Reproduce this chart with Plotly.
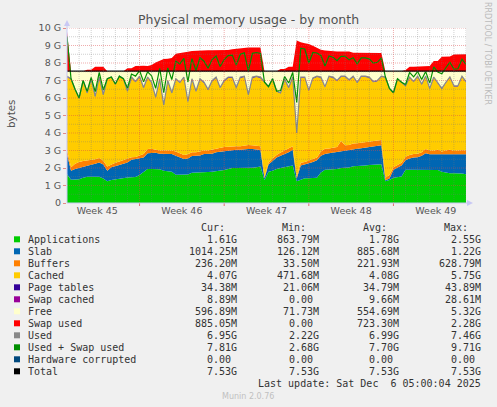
import pandas as pd
import plotly.graph_objects as go

# munin memory graph, values in G (one sample every 8 hours)
start = pd.Timestamp("2025-11-03 00:00")
times = pd.date_range(start, periods=100, freq="8h")
total_mem = 7.53

apps = [1.64, 1.33, 1.34, 1.36, 1.45, 1.50, 1.50, 1.51, 1.50, 1.40,
        1.24, 1.32, 1.36, 1.40, 1.43, 1.46, 1.47, 1.48, 1.60, 1.75,
        1.94, 1.94, 1.94, 1.93, 1.85, 1.80, 1.78, 1.62, 1.62, 1.62,
        1.63, 1.73, 1.75, 1.75, 1.76, 1.77, 1.78, 1.80, 1.86, 1.88,
        1.95, 2.00, 2.00, 2.00, 2.02, 2.02, 2.02, 2.05, 2.08, 1.31,
        1.79, 1.85, 1.95, 2.00, 2.05, 2.10, 2.15, 1.25, 1.35, 1.41,
        1.41, 1.42, 1.45, 1.75, 1.90, 1.92, 1.93, 1.95, 2.00, 2.02,
        2.03, 2.10, 2.13, 2.15, 2.15, 2.17, 2.18, 2.20, 2.22, 1.25,
        1.31, 1.45, 1.50, 1.52, 1.90, 1.90, 1.90, 1.90, 1.90, 1.90,
        1.88, 1.88, 1.88, 1.78, 1.72, 1.70, 1.70, 1.70, 1.68, 1.65]

slab = [1.14, 0.52, 0.61, 0.64, 0.63, 0.62, 0.68, 0.74, 0.82, 0.80,
        0.61, 0.73, 0.74, 0.77, 0.82, 0.86, 1.00, 1.02, 0.95, 0.85,
        0.91, 0.93, 0.93, 0.89, 0.95, 1.00, 1.02, 1.08, 1.00, 0.90,
        0.92, 0.95, 0.95, 0.97, 1.04, 1.03, 1.04, 1.10, 1.07, 1.07,
        1.05, 1.05, 1.05, 1.05, 1.06, 1.06, 1.06, 1.00, 0.95, 0.11,
        0.41, 0.55, 0.65, 0.70, 0.75, 0.80, 0.90, 0.15, 0.80, 0.79,
        0.86, 0.93, 1.00, 0.95, 0.90, 0.92, 0.95, 0.97, 0.98, 0.98,
        1.00, 0.98, 0.97, 0.98, 1.02, 1.03, 1.04, 1.05, 1.08, 0.05,
        0.09, 0.45, 0.55, 0.63, 0.55, 0.65, 0.70, 0.72, 0.80, 0.95,
        0.90, 0.90, 0.90, 0.97, 1.03, 1.06, 1.07, 1.08, 1.10, 1.13]

buffers = [0.25, 0.20, 0.30, 0.35, 0.32, 0.30, 0.27, 0.25, 0.25, 0.22,
           0.23, 0.15, 0.20, 0.20, 0.20, 0.20, 0.15, 0.13, 0.15, 0.20,
           0.23, 0.23, 0.18, 0.18, 0.20, 0.20, 0.20, 0.25, 0.23, 0.23,
           0.23, 0.22, 0.20, 0.23, 0.20, 0.20, 0.23, 0.22, 0.22, 0.25,
           0.22, 0.20, 0.20, 0.20, 0.22, 0.24, 0.22, 0.23, 0.22, 0.05,
           0.10, 0.15, 0.15, 0.18, 0.20, 0.20, 0.20, 0.10, 0.15, 0.15,
           0.15, 0.15, 0.15, 0.25, 0.30, 0.28, 0.27, 0.28, 0.57, 0.30,
           0.29, 0.32, 0.32, 0.32, 0.28, 0.30, 0.28, 0.30, 0.30, 0.15,
           0.20, 0.15, 0.15, 0.15, 0.20, 0.20, 0.20, 0.20, 0.20, 0.23,
           0.22, 0.20, 0.27, 0.20, 0.25, 0.29, 0.20, 0.22, 0.24, 0.22]

page_tables = [0.036, 0.032, 0.033, 0.034, 0.034, 0.035, 0.034, 0.035, 0.035, 0.034,
               0.031, 0.032, 0.033, 0.033, 0.034, 0.034, 0.035, 0.035, 0.034, 0.035,
               0.036, 0.035, 0.035, 0.036, 0.035, 0.035, 0.034, 0.034, 0.035, 0.034,
               0.035, 0.035, 0.035, 0.036, 0.035, 0.035, 0.036, 0.036, 0.035, 0.036,
               0.036, 0.036, 0.035, 0.036, 0.036, 0.035, 0.036, 0.036, 0.036, 0.022,
               0.030, 0.032, 0.033, 0.034, 0.034, 0.035, 0.035, 0.021, 0.030, 0.031,
               0.032, 0.033, 0.033, 0.034, 0.034, 0.035, 0.035, 0.035, 0.036, 0.035,
               0.035, 0.036, 0.036, 0.036, 0.036, 0.037, 0.036, 0.037, 0.037, 0.022,
               0.025, 0.030, 0.031, 0.032, 0.033, 0.033, 0.034, 0.034, 0.034, 0.035,
               0.034, 0.034, 0.035, 0.034, 0.034, 0.035, 0.034, 0.034, 0.034, 0.034]

swap_cached = [0.028, 0.0, 0.0, 0.0, 0.0, 0.006, 0.006, 0.007, 0.007, 0.006,
               0.002, 0.002, 0.002, 0.002, 0.002, 0.008, 0.008, 0.010, 0.010, 0.010,
               0.010, 0.011, 0.012, 0.012, 0.013, 0.013, 0.013, 0.014, 0.014, 0.014,
               0.014, 0.015, 0.015, 0.015, 0.015, 0.015, 0.015, 0.015, 0.015, 0.015,
               0.015, 0.016, 0.016, 0.016, 0.016, 0.016, 0.016, 0.016, 0.016, 0.0,
               0.0, 0.0, 0.0, 0.004, 0.004, 0.005, 0.005, 0.012, 0.012, 0.012,
               0.012, 0.012, 0.012, 0.012, 0.012, 0.012, 0.012, 0.012, 0.012, 0.012,
               0.011, 0.011, 0.011, 0.011, 0.011, 0.011, 0.011, 0.011, 0.011, 0.0,
               0.0, 0.0, 0.0, 0.0, 0.002, 0.005, 0.005, 0.005, 0.005, 0.005,
               0.006, 0.008, 0.008, 0.009, 0.009, 0.009, 0.009, 0.009, 0.009, 0.009]

used = [7.25, 7.10, 6.50, 6.00, 7.00, 6.30, 7.10, 6.10, 7.20, 6.20,
        7.10, 7.20, 6.80, 7.25, 7.10, 6.40, 7.20, 6.95, 7.25, 6.60,
        7.20, 6.90, 6.05, 7.10, 5.60, 7.00, 6.30, 7.10, 6.90, 7.20,
        5.80, 7.10, 6.40, 7.10, 6.90, 6.50, 7.00, 7.20, 6.60, 7.00,
        7.20, 7.20, 6.60, 7.20, 7.25, 6.20, 7.20, 7.25, 7.20, 6.90,
        6.65, 7.10, 6.40, 6.30, 7.10, 6.60, 7.20, 4.00, 7.20, 7.20,
        6.45, 7.15, 7.25, 7.20, 6.65, 7.25, 7.20, 7.00, 7.25, 7.25,
        7.05, 7.25, 6.90, 7.25, 7.25, 7.20, 6.95, 7.00, 7.25, 7.20,
        6.55, 6.30, 7.10, 6.90, 6.70, 7.20, 6.95, 7.25, 6.80, 7.25,
        6.55, 7.20, 6.90, 6.55, 6.90, 7.20, 6.70, 6.70, 7.25, 6.95]

swap_used = [2.26, 0.0, 0.0, 0.0, 0.0, 0.08, 0.08, 0.26, 0.26, 0.26,
             0.0, 0.0, 0.0, 0.0, 0.0, 0.17, 0.17, 0.30, 0.32, 0.32,
             0.30, 0.36, 0.50, 0.60, 0.70, 0.72, 0.75, 1.00, 1.05, 1.07,
             1.12, 1.15, 1.17, 1.20, 1.20, 1.20, 1.20, 1.20, 1.20, 1.20,
             1.22, 1.25, 1.28, 1.30, 1.33, 1.35, 1.35, 1.35, 1.35, 0.0,
             0.0, 0.0, 0.0, 0.13, 0.13, 0.26, 0.26, 1.75, 1.65, 1.60,
             1.55, 1.45, 1.32, 1.23, 1.18, 1.15, 1.13, 1.13, 1.13, 1.13,
             1.13, 1.05, 1.05, 1.04, 1.04, 1.04, 1.04, 1.04, 1.04, 0.0,
             0.0, 0.0, 0.0, 0.0, 0.07, 0.26, 0.26, 0.26, 0.26, 0.26,
             0.30, 0.58, 0.58, 0.83, 0.83, 0.84, 0.95, 0.97, 0.97, 0.97]

cached = [round(u - a - s - b - p - c, 3) for u, a, s, b, p, c
          in zip(used, apps, slab, buffers, page_tables, swap_cached)]
free = [round(total_mem - u, 3) for u in used]
used_swap = [round(u + s, 3) for u, s in zip(used, swap_used)]
total = [total_mem for _ in times]

week_labels = ["Week 45", "Week 46", "Week 47", "Week 48", "Week 49"]
week_centers = pd.date_range("2025-11-05 12:00", periods=5, freq="7D")
week_starts = pd.date_range("2025-11-09", periods=4, freq="7D")

legend_names = ["Applications", "Slab", "Buffers", "Cached", "Page tables",
                "Swap cached", "Free", "Swap used", "Used", "Used + Swap used",
                "Hardware corrupted", "Total"]
legend_colors = ["#00CC00", "#0066B3", "#FF8000", "#FFCC00", "#330099",
                 "#990099", "#FFFFCC", "#FF0000", "#888888", "#008F00",
                 "#00487D", "#000000"]
cur_vals = ["1.61G", "1014.25M", "236.20M", "4.07G", "34.38M", "8.89M",
            "596.89M", "885.05M", "6.95G", "7.81G", "0.00", "7.53G"]
min_vals = ["863.79M", "126.12M", "33.50M", "471.68M", "21.06M", "0.00",
            "71.73M", "0.00", "2.22G", "2.68G", "0.00", "7.53G"]
avg_vals = ["1.78G", "885.68M", "221.93M", "4.08G", "34.79M", "9.66M",
            "554.69M", "723.30M", "6.99G", "7.70G", "0.00", "7.53G"]
max_vals = ["2.55G", "1.22G", "628.79M", "5.75G", "43.89M", "28.61M",
            "5.32G", "2.28G", "7.46G", "9.71G", "0.00", "7.53G"]

W, H = 497, 407
L, R, T, B = 67, 466, 28, 203


def px(x):
    return (x - L) / (R - L)


def py(y):
    return (B - y) / (B - T)


fig = go.Figure()

stack = [("Applications", apps, "#00CC00"), ("Slab", slab, "#0066B3"),
         ("Buffers", buffers, "#FF8000"), ("Cached", cached, "#FFCC00"),
         ("Page tables", page_tables, "#330099"), ("Swap cached", swap_cached, "#990099"),
         ("Free", free, "#FFFFCC"), ("Swap used", swap_used, "#FF0000")]
for name, vals, color in stack:
    fig.add_trace(go.Scatter(x=times, y=vals, name=name, stackgroup="mem",
                             mode="lines", line=dict(width=0, color=color),
                             fillcolor=color))

fig.add_trace(go.Scatter(x=times, y=used, mode="lines", name="Used",
                         line=dict(color="#888888", width=1.2)))
fig.add_trace(go.Scatter(x=times, y=used_swap, mode="lines", name="Used + Swap used",
                         line=dict(color="#008F00", width=1.2)))
fig.add_trace(go.Scatter(x=times, y=total, mode="lines", name="Total",
                         line=dict(color="#000000", width=1.2)))

shapes = []
# dotted grid on top of the areas, like rrdtool
for k in range(1, 21):
    v = k / 2
    major = k % 2 == 0
    shapes.append(dict(type="line", xref="paper", yref="y", x0=0, x1=1, y0=v, y1=v,
                       layer="above",
                       line=dict(width=1, dash="1px,1px",
                                 color="rgba(220,70,70,0.45)" if major else "rgba(120,120,120,0.35)")))
for d in pd.date_range(start + pd.Timedelta(days=1), times[-1], freq="1D"):
    major = d in week_starts
    shapes.append(dict(type="line", xref="x", yref="paper", x0=d, x1=d, y0=0, y1=1,
                       layer="above",
                       line=dict(width=1, dash="1px,1px",
                                 color="rgba(220,70,70,0.45)" if major else "rgba(120,120,120,0.35)")))
for d in week_starts:
    shapes.append(dict(type="line", xref="x", yref="paper", x0=d, x1=d,
                       y0=0, y1=py(206), line=dict(width=1, color="#E07070")))

# axis lines with arrows
axis_col = "#C8C8F4"
shapes.append(dict(type="line", xref="paper", yref="paper", x0=0, x1=px(470),
                   y0=0, y1=0, line=dict(width=1, color=axis_col)))
shapes.append(dict(type="line", xref="paper", yref="paper", x0=0, x1=0,
                   y0=0, y1=py(22), line=dict(width=1, color=axis_col)))
shapes.append(dict(type="path", xref="paper", yref="paper",
                   path=f"M {px(467)} {py(200)} L {px(473)} {py(203)} L {px(467)} {py(206)} Z",
                   fillcolor=axis_col, line=dict(width=0)))
shapes.append(dict(type="path", xref="paper", yref="paper",
                   path=f"M {px(64)} {py(26)} L {px(67)} {py(20)} L {px(70)} {py(26)} Z",
                   fillcolor=axis_col, line=dict(width=0)))

# legend colour boxes
row_y = [239.3 + 12 * k for k in range(len(legend_names))]
for color, y in zip(legend_colors, row_y):
    shapes.append(dict(type="rect", xref="paper", yref="paper",
                       x0=px(14), x1=px(20), y0=py(y - 3), y1=py(y + 3),
                       fillcolor=color, line=dict(width=0)))

mono = dict(family="DejaVu Sans Mono", size=10, color="#333333")
ann = []


def text(x, y, s, anchor="left", font=mono, angle=0):
    ann.append(dict(x=px(x), y=py(y), xref="paper", yref="paper", text=s,
                    showarrow=False, xanchor=anchor, yanchor="middle",
                    font=font, textangle=angle))


sans = "DejaVu Sans"
text(248, 19, "Physical memory usage - by month", "center",
     dict(family=sans, size=12.5, color="#505050"))
text(11, 114, "bytes", "center", dict(family=sans, size=10.3, color="#505050"), -90)
text(488, 53, "RRDTOOL / TOBI OETIKER", "center",
     dict(family=sans, size=8, color="#BBBBBB"), 90)

for head, xr in zip(["Cur:", "Min:", "Avg:", "Max:"], [227, 308, 389, 470]):
    text(xr, 227.7, head, "right")
for i, name in enumerate(legend_names):
    text(26, row_y[i], name)
    for vals, xr in zip([cur_vals, min_vals, avg_vals, max_vals], [239, 321, 401, 483]):
        v = vals[i]
        shift = 0 if v[-1] in "GM" else 6
        text(xr - shift, row_y[i], v, "right")
text(483, 383.3, "Last update: Sat Dec \u00a06 05:00:04 2025", "right")
text(248, 396, "Munin 2.0.76", "center", dict(family=sans, size=8, color="#C0C0C0"))

fig.update_layout(
    width=W, height=H,
    margin=dict(l=L, r=W - R, t=T, b=H - B),
    paper_bgcolor="#F0F0F0", plot_bgcolor="#FFFFFF",
    showlegend=False, shapes=shapes, annotations=ann,
    xaxis=dict(range=[times[0], times[-1]], showgrid=False, zeroline=False,
               tickmode="array", tickvals=week_centers, ticktext=week_labels,
               ticks="", tickfont=dict(family=sans, size=9.5, color="#555555")),
    yaxis=dict(range=[0, 10], showgrid=False, zeroline=False,
               tickmode="array", tickvals=list(range(11)),
               ticktext=["0"] + [f"{k} G" for k in range(1, 11)],
               ticks="outside", ticklen=3, tickcolor="rgba(220,70,70,0.6)",
               tickfont=dict(family=sans, size=9.5, color="#555555")),
)

# the page body has a default 8px margin; drop it so the figure fills the window
fig.write_html("out.html", config={"displayModeBar": False},
               post_script="document.body.style.margin='0';"
                           "document.body.style.background='#F0F0F0';")
